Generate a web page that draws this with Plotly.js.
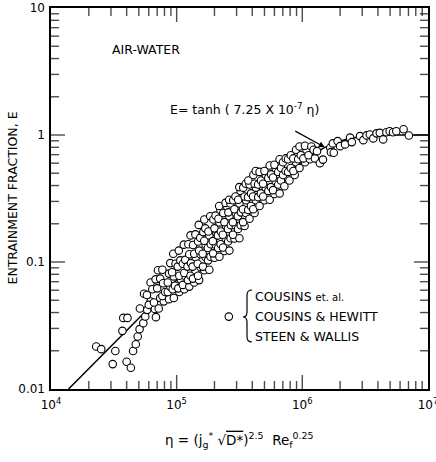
<!DOCTYPE html>
<html><head><meta charset="utf-8">
<script src="https://cdn.plot.ly/plotly-3.0.1.min.js"></script>
<style>html,body{margin:0;padding:0;background:#fff}</style>
</head><body><div id="chart" style="width:436px;height:462px"></div>
<script>
// Measured points: eta (x) and entrainment fraction E (y)
const etaData = [
  2.29e4,2.51e4,3.1e4,3.25e4,3.7e4,3.76e4,4.06e4,4.0e4,4.32e4,4.5e4,4.73e4,4.9e4,5.07e4,5.43e4,5.5e4,5.63e4,5.83e4,6.1e4,6.71e4,6.84e4,5.1e4,6.2e4,
  6.0e4,5.8e4,6.2e4,
  6.6e4,6.4e4,6.8e4,
  7.2e4,7.4e4,7.0e4,7.4e4,7.1e4,
  7.9e4,7.7e4,8.1e4,7.8e4,7.7e4,
  8.7e4,8.5e4,8.9e4,8.5e4,8.7e4,8.9e4,
  9.5e4,9.3e4,9.7e4,9.5e4,9.2e4,9.8e4,9.4e4,
  1.05e5,1.03e5,1.08e5,1.05e5,1.02e5,1.07e5,1.04e5,
  1.15e5,1.12e5,1.18e5,1.15e5,1.12e5,1.17e5,1.14e5,
  1.26e5,1.23e5,1.29e5,1.22e5,1.3e5,1.26e5,1.24e5,1.29e5,
  1.38e5,1.35e5,1.41e5,1.34e5,1.42e5,1.38e5,1.35e5,1.41e5,
  1.51e5,1.48e5,1.55e5,1.47e5,1.55e5,1.51e5,1.48e5,1.54e5,1.5e5,
  1.66e5,1.62e5,1.7e5,1.61e5,1.7e5,1.66e5,1.63e5,1.69e5,1.66e5,
  1.82e5,1.78e5,1.86e5,1.77e5,1.87e5,1.82e5,1.79e5,1.85e5,
  2.0e5,1.95e5,2.05e5,1.94e5,2.06e5,2.0e5,1.96e5,2.04e5,
  2.19e5,2.14e5,2.24e5,2.13e5,2.25e5,2.19e5,2.15e5,2.23e5,2.18e5,
  2.4e5,2.34e5,2.46e5,2.33e5,2.47e5,2.4e5,2.35e5,2.45e5,
  2.63e5,2.57e5,2.69e5,2.56e5,2.7e5,2.63e5,2.58e5,2.68e5,2.62e5,
  2.88e5,2.81e5,2.95e5,2.8e5,2.96e5,2.88e5,2.82e5,2.94e5,
  3.16e5,3.08e5,3.24e5,3.07e5,3.25e5,3.16e5,3.09e5,3.23e5,3.15e5,
  3.47e5,3.38e5,3.56e5,3.37e5,3.57e5,3.47e5,3.39e5,3.55e5,
  3.8e5,3.71e5,3.9e5,3.7e5,3.91e5,3.8e5,3.72e5,
  4.17e5,4.07e5,4.27e5,4.06e5,4.28e5,4.17e5,4.08e5,4.26e5,
  4.57e5,4.46e5,4.68e5,4.45e5,4.69e5,4.57e5,
  5.0e5,4.88e5,5.12e5,4.87e5,5.13e5,5.0e5,
  5.5e5,5.37e5,5.63e5,5.36e5,5.64e5,5.5e5,
  6.0e5,5.85e5,6.15e5,5.84e5,6.16e5,6.0e5,
  6.6e5,6.44e5,6.76e5,6.43e5,6.77e5,6.6e5,
  7.2e5,7.03e5,7.37e5,7.02e5,7.38e5,
  7.9e5,7.71e5,8.09e5,7.7e5,8.1e5,
  8.7e5,8.49e5,8.91e5,8.48e5,8.92e5,
  9.5e5,9.27e5,9.73e5,9.5e5,
  1.05e6,1.02e6,1.08e6,1.05e6,
  1.15e6,1.12e6,1.18e6,
  1.26e6,1.23e6,
  1.31e6,1.38e6,1.46e6,1.67e6,1.69e6,1.75e6,1.78e6,1.91e6,2.0e6,2.19e6,2.4e6,2.48e6,2.88e6,3.06e6,3.25e6,3.45e6,3.67e6,3.9e6,4.14e6,4.4e6,4.67e6,4.96e6,5.27e6,5.6e6,6.4e6,7.05e6
];
const entrainment = [
  0.0216,0.0206,0.0157,0.0199,0.0287,0.0363,0.0363,0.0164,0.0147,0.0199,0.0225,0.0259,0.0296,0.033,0.0562,0.0372,0.042,0.0468,0.0426,0.0368,0.043,0.0489,
  0.046,0.055,0.069,
  0.048,0.061,0.073,
  0.043,0.052,0.062,0.074,0.086,
  0.049,0.054,0.058,0.068,0.087,
  0.051,0.058,0.064,0.069,0.081,0.098,
  0.052,0.061,0.065,0.077,0.083,0.097,0.116,
  0.058,0.062,0.073,0.078,0.092,0.103,0.123,
  0.061,0.066,0.077,0.082,0.097,0.104,0.137,
  0.064,0.072,0.078,0.092,0.098,0.115,0.138,0.162,
  0.069,0.074,0.086,0.092,0.109,0.116,0.136,0.165,
  0.072,0.078,0.091,0.097,0.115,0.123,0.145,0.155,0.196,
  0.086,0.092,0.109,0.116,0.137,0.147,0.172,0.184,0.216,
  0.087,0.103,0.110,0.129,0.138,0.162,0.174,0.229,
  0.108,0.117,0.136,0.146,0.172,0.184,0.216,0.232,
  0.110,0.129,0.138,0.162,0.174,0.205,0.219,0.257,0.276,
  0.122,0.130,0.153,0.164,0.193,0.206,0.243,0.292,
  0.123,0.145,0.154,0.182,0.195,0.229,0.246,0.289,0.309,
  0.153,0.164,0.193,0.206,0.243,0.260,0.306,0.328,
  0.154,0.182,0.195,0.229,0.246,0.289,0.309,0.363,0.389,
  0.192,0.206,0.243,0.260,0.306,0.328,0.385,0.413,
  0.219,0.257,0.276,0.324,0.347,0.408,0.438,
  0.243,0.260,0.306,0.328,0.385,0.413,0.484,0.52,
  0.276,0.324,0.347,0.408,0.438,0.512,
  0.306,0.328,0.385,0.413,0.484,0.52,
  0.309,0.363,0.389,0.458,0.49,0.575,
  0.343,0.368,0.432,0.463,0.544,0.583,
  0.347,0.408,0.438,0.512,0.55,0.645,
  0.395,0.484,0.52,0.61,0.654,
  0.438,0.512,0.55,0.645,0.693,
  0.484,0.52,0.61,0.654,0.766,
  0.55,0.645,0.693,0.812,
  0.61,0.654,0.766,0.823,
  0.645,0.693,0.812,
  0.654,0.766,
  0.746,0.60,0.64,0.794,0.733,0.859,0.724,0.895,0.817,0.843,0.953,0.879,0.98,0.911,0.993,1.01,0.94,1.03,1.04,0.923,1.05,1.07,1.05,1.07,1.11,0.99
];
// Correlation line E = tanh(7.25e-7 * eta)
const fitEta = [1.38e4,2e4,3e4,5e4,7e4,1e5,1.5e5,2e5,2.5e5,3e5,4e5,5e5,6e5,7e5,8e5,1e6,1.2e6,1.5e6,2e6,2.5e6,3e6,4e6,5e6,7e6,1e7];
const fitE   = [0.0100,0.0145,0.02175,0.03623,0.05071,0.07237,0.1083,0.1440,0.1793,0.2141,0.2821,0.3474,0.4095,0.4680,0.5227,0.6203,0.7014,0.7960,0.8957,0.9481,0.9747,0.9940,0.9986,0.9999,1.0];

const xTickVals = [1e4,1e5,1e6,1e7];
const xTickText = ['10<sup>4</sup>','10<sup>5</sup>','10<sup>6</sup>','10<sup>7</sup>'];
const xInnerMajor = [1e5,1e6];
const xMinorVals = [2e4,3e4,4e4,5e4,6e4,7e4,8e4,9e4,2e5,3e5,4e5,5e5,6e5,7e5,8e5,9e5,2e6,3e6,4e6,5e6,6e6,7e6,8e6,9e6];
const yTickVals = [0.01,0.1,1,10];
const yTickText = ['0.01','0.1','1','10'];
const yInnerMajor = [0.1,1];
const yMinorVals = [0.02,0.03,0.04,0.05,0.06,0.07,0.08,0.09,0.2,0.3,0.4,0.5,0.6,0.7,0.8,0.9,2,3,4,5,6,7,8,9];
const legendLines = ['COUSINS <span style="font-size:10px">et. al.</span>','COUSINS &amp; HEWITT','STEEN &amp; WALLIS'];

const FONT = 'DejaVu Sans, Arial, sans-serif';
// line-ns / line-ew symbols are 1.4*size long; half of it lies inside the frame after clipping
const MAJOR_SIZE = 20, MINOR_SIZE = 11.5;

// inward tick marks built from the tick arrays, sitting on the frame edges
const xTickPos = xInnerMajor.concat(xMinorVals);
const xTickSizes = xInnerMajor.map(function(){return MAJOR_SIZE;}).concat(xMinorVals.map(function(){return MINOR_SIZE;}));
const yBottom = yTickVals[0], yTop = yTickVals[yTickVals.length-1];
const yTickPos = yInnerMajor.concat(yMinorVals);
const yTickSizes = yInnerMajor.map(function(){return MAJOR_SIZE;}).concat(yMinorVals.map(function(){return MINOR_SIZE;}));
const xLeft = xTickVals[0], xRight = xTickVals[xTickVals.length-1];

const traces = [
  {x: fitEta, y: fitE, type:'scatter', mode:'lines', line:{color:'black', width:1.5}, showlegend:false, hoverinfo:'skip'},
  {x: etaData, y: entrainment, type:'scatter', mode:'markers', name:'', showlegend:true,
   marker:{symbol:'circle', size:7.5, color:'white', line:{color:'black', width:1.1}}},
  {x: xTickPos.concat(xTickPos), y: xTickPos.map(function(){return yBottom;}).concat(xTickPos.map(function(){return yTop;})),
   type:'scatter', mode:'markers', showlegend:false, hoverinfo:'skip', cliponaxis:true,
   marker:{symbol:'line-ns-open', size:xTickSizes.concat(xTickSizes), color:'black', line:{color:'black', width:1.4}}},
  {x: yTickPos.map(function(){return xLeft;}).concat(yTickPos.map(function(){return xRight;})), y: yTickPos.concat(yTickPos),
   type:'scatter', mode:'markers', showlegend:false, hoverinfo:'skip', cliponaxis:true,
   marker:{symbol:'line-ew-open', size:yTickSizes.concat(yTickSizes), color:'black', line:{color:'black', width:1.4}}}
];

function axis(extra){
  return Object.assign({
    type:'log', showline:true, linecolor:'black', linewidth:1.6, mirror:true,
    ticks:'', showgrid:false, zeroline:false, tickmode:'array', ticklabeloverflow:'allow',
    tickfont:{family:FONT, size:12, color:'black'}
  }, extra);
}

const layout = {
  width:436, height:462,
  margin:{l:51, r:8, t:8, b:73},
  paper_bgcolor:'white', plot_bgcolor:'white',
  font:{family:FONT, color:'black'},
  xaxis: axis({range:[4,7.0005], tickvals:xTickVals, ticktext:xTickText, ticklabelstandoff:4}),
  yaxis: axis({range:[-2,1], tickvals:yTickVals, ticktext:yTickText, ticklabelstandoff:2}),
  showlegend:true,
  legend:{x:0.4186, y:0.19, xanchor:'left', yanchor:'middle', bgcolor:'rgba(0,0,0,0)', borderwidth:0, font:{size:10}},
  annotations:[
    {xref:'paper', yref:'paper', x:-0.1034, y:0.5, xanchor:'center', yanchor:'middle', textangle:-90, text:'ENTRAINMENT FRACTION, E', showarrow:false, font:{family:FONT, size:12.5, color:'black'}},
    {xref:'paper', yref:'paper', x:0.5, y:-0.134, xanchor:'center', yanchor:'middle', text:'η = (j<sub>g</sub><sup>*</sup> √<span style="text-decoration:overline">D*</span>)<sup>2.5</sup>  Re<sub>f</sub><sup>0.25</sup>', showarrow:false, font:{family:FONT, size:13.5, color:'black'}},
    {xref:'paper', yref:'paper', x:0.1565, y:0.892, xanchor:'left', yanchor:'middle', text:'AIR-WATER', showarrow:false, font:{family:FONT, size:12.5, color:'black'}},
    {xref:'paper', yref:'paper', x:0.31, y:0.734, xanchor:'left', yanchor:'middle', text:'E= tanh ( 7.25 X 10<sup>-7</sup> η)', showarrow:false, font:{family:FONT, size:12.5, color:'black'}},
    {xref:'x', yref:'y', x:Math.log10(1.51e6), y:Math.log10(0.80), ax:-31, ay:-17, text:'', showarrow:true, arrowhead:2, arrowsize:1, arrowwidth:1.2, arrowcolor:'black'},
    {xref:'paper', yref:'paper', x:0.536, y:0.242, xanchor:'left', yanchor:'middle', text:legendLines[0], showarrow:false, font:{family:FONT, size:12.5, color:'black'}},
    {xref:'paper', yref:'paper', x:0.536, y:0.189, xanchor:'left', yanchor:'middle', text:legendLines[1], showarrow:false, font:{family:FONT, size:12.5, color:'black'}},
    {xref:'paper', yref:'paper', x:0.536, y:0.137, xanchor:'left', yanchor:'middle', text:legendLines[2], showarrow:false, font:{family:FONT, size:12.5, color:'black'}}
  ],
  shapes:[
    {type:'path', xref:'paper', yref:'paper', xsizemode:'pixel', ysizemode:'pixel', xanchor:0, yanchor:0,
     path:'M201,99 Q196,99 196,94 L196,77 Q196,72 192,72 Q196,72 196,67 L196,52 Q196,47 201,47',
     line:{color:'black', width:1.2}}
  ]
};

Plotly.newPlot('chart', traces, layout, {displayModeBar:false, staticPlot:true});
</script>
</body></html>
